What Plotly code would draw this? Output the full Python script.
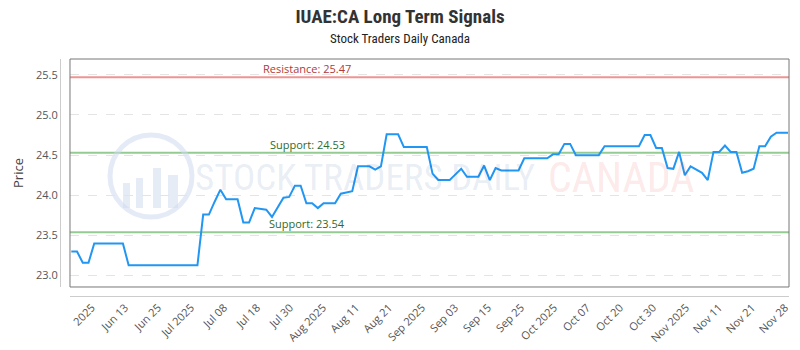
import numpy as np
import plotly.graph_objects as go

# ---- data ----
prices = [23.30, 23.30, 23.16, 23.16,
          23.40, 23.40, 23.40, 23.40, 23.40, 23.40,
          23.13, 23.13, 23.13, 23.13, 23.13, 23.13, 23.13, 23.13, 23.13, 23.13, 23.13, 23.13, 23.13,
          23.76, 23.76, 23.92, 24.07, 23.95, 23.95, 23.95, 23.66, 23.66,
          23.84, 23.83, 23.82, 23.73, 23.85, 23.97, 23.98, 24.12, 24.12,
          23.90, 23.90, 23.84, 23.90, 23.90, 23.90, 24.02, 24.035, 24.05,
          24.36, 24.36, 24.36, 24.32, 24.36, 24.76, 24.76, 24.76,
          24.60, 24.60, 24.60, 24.60, 24.60,
          24.27, 24.19, 24.19, 24.19, 24.26, 24.33, 24.23, 24.23, 24.23, 24.37, 24.19, 24.34,
          24.31, 24.31, 24.31, 24.31,
          24.46, 24.46, 24.46, 24.46, 24.46,
          24.51, 24.51, 24.64, 24.64,
          24.50, 24.50, 24.50, 24.50, 24.50,
          24.61, 24.61, 24.61, 24.61, 24.61, 24.61, 24.61,
          24.75, 24.75, 24.59, 24.59, 24.34, 24.33, 24.54, 24.25, 24.36, 24.32, 24.28, 24.19,
          24.54, 24.54, 24.62, 24.54, 24.54, 24.28, 24.30, 24.33, 24.61, 24.61, 24.73, 24.78,
          24.78, 24.78]

tick_labels = ["2025", "Jun 13", "Jun 25", "Jul 2025", "Jul 08", "Jul 18", "Jul 30",
               "Aug 2025", "Aug 11", "Aug 21", "Sep 2025", "Sep 03", "Sep 15", "Sep 25",
               "Oct 2025", "Oct 07", "Oct 20", "Oct 30", "Nov 2025", "Nov 11", "Nov 21",
               "Nov 28"]

resistance = 25.47
supports = [24.53, 23.54]

title = "IUAE:CA Long Term Signals"
subtitle = "Stock Traders Daily Canada"

x = list(range(len(prices)))
tickvals = list(np.linspace(3.6, 124.5, len(tick_labels)))

NARROW = "Roboto Condensed, Liberation Sans Narrow, DejaVu Sans Condensed, Roboto, sans-serif"
OPEN = "Open Sans, sans-serif"

fig = go.Figure()
fig.add_trace(go.Scatter(x=x, y=prices, mode="lines",
                         line=dict(color="#2196f3", width=2),
                         hoverinfo="y", showlegend=False))

# plot frame
fig.add_shape(type="rect", xref="x domain", yref="y domain", x0=0, x1=1, y0=0, y1=1,
              line=dict(color="#777777", width=1), layer="above")

# resistance / support lines
fig.add_shape(type="line", xref="x domain", yref="y", x0=0, x1=1, y0=resistance, y1=resistance,
              line=dict(color="rgba(235,120,120,0.8)", width=2), layer="below")
fig.add_annotation(xref="x domain", yref="y", x=0.33, y=resistance, xanchor="center",
                   yanchor="bottom", text=f"Resistance: {resistance:.2f}", showarrow=False,
                   yshift=-1, font=dict(family=OPEN, size=11, color="#b03a3a"))
for s in supports:
    fig.add_shape(type="line", xref="x domain", yref="y", x0=0, x1=1, y0=s, y1=s,
                  line=dict(color="rgba(120,190,120,0.8)", width=2), layer="below")
    fig.add_annotation(xref="x domain", yref="y", x=0.33, y=s, xanchor="center",
                       yanchor="bottom", text=f"Support: {s:.2f}", showarrow=False, yshift=-1,
                       font=dict(family=OPEN, size=11, color="#2e6b2e"))

# watermark (paper coordinates derived from pixel layout)
def px2paper(px, py):
    return (px - 60) / 729, (296 - py) / 237

cx0, cy0 = px2paper(110, 135)
cx1, cy1 = px2paper(192, 217)
fig.add_shape(type="circle", xref="paper", yref="paper", x0=cx0, y0=cy1, x1=cx1, y1=cy0,
              line=dict(color="rgba(205,218,238,0.55)", width=5), layer="below")
for (bx0, bt, bx1) in [(123, 183, 130), (136, 178, 143), (153, 168, 161), (168, 175, 178)]:
    a0, b0 = px2paper(bx0, 208)
    a1, b1 = px2paper(bx1, bt)
    fig.add_shape(type="rect", xref="paper", yref="paper", x0=a0, y0=b0, x1=a1, y1=b1,
                  line=dict(width=0), fillcolor="rgba(205,218,238,0.5)", layer="below")
wx, wy = px2paper(365, 177)
fig.add_annotation(xref="paper", yref="paper", x=wx, y=wy, xanchor="center", yanchor="middle",
                   text="STOCK TRADERS DAILY", showarrow=False,
                   font=dict(family=NARROW, size=37, color="rgba(40,80,150,0.11)"))
wx, wy = px2paper(621, 177)
fig.add_annotation(xref="paper", yref="paper", x=wx, y=wy, xanchor="center", yanchor="middle",
                   text="CANADA", showarrow=False,
                   font=dict(family=NARROW, size=42, color="rgba(240,90,90,0.14)"))

fig.update_layout(
    width=800, height=350,
    margin=dict(l=60, r=11, t=59, b=54, autoexpand=False),
    paper_bgcolor="white", plot_bgcolor="white",
    title=dict(text=f"<b>{title}</b>", x=0.5, xanchor="center", y=0.953, yanchor="middle",
               font=dict(family=NARROW, size=19, color="#333333")),
    xaxis=dict(domain=[0.0137, 1], range=[-0.23, 125.17], anchor="free", position=0,
               showgrid=False, zeroline=False, showline=True, linecolor="#cccccc", linewidth=1,
               tickmode="array", tickvals=tickvals, ticktext=tick_labels, tickangle=-45,
               ticks="", automargin=False,
               tickfont=dict(family=OPEN, size=11, color="#555555")),
    yaxis=dict(domain=[0.038, 1], range=[22.858, 25.697], anchor="free", position=0,
               dtick=0.5, tick0=23.0, tickformat=".1f", automargin=False,
               showgrid=True, gridcolor="#e4e4e4", griddash="dash", gridwidth=1,
               zeroline=False, showline=True, linecolor="#cccccc", linewidth=1, ticks="",
               tickfont=dict(family=OPEN, size=11, color="#555555"),
               title=dict(text="Price", font=dict(family=OPEN, size=13, color="#444444"),
                          standoff=8)),
)
fig.add_annotation(xref="paper", yref="paper", x=(400 - 60) / 729, y=(296 - 39) / 237,
                   xanchor="center", yanchor="middle", text=subtitle, showarrow=False,
                   font=dict(family=NARROW, size=13, color="#222222"))

fig.write_html("out.html")
